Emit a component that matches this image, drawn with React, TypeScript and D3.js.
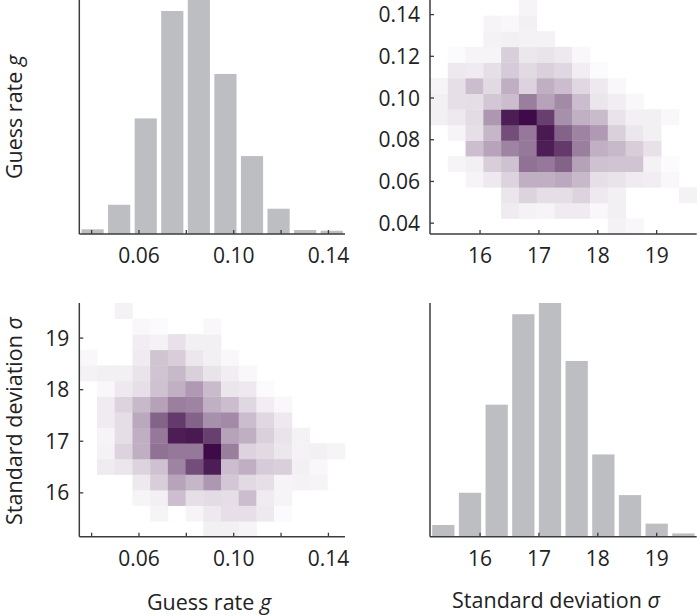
import React from 'react';
import * as d3 from 'd3';

// ---- data ----
const gDomain = [0.0348, 0.147];
const sDomain = [15.15, 19.68];
const gHistCounts = [20, 125, 494, 953, 1000, 684, 333, 108, 17, 14];
const sHistCounts = [50, 188, 565, 952, 1000, 752, 352, 178, 56, 14];
const gTicks = [0.04, 0.06, 0.08, 0.1, 0.12, 0.14];
const gTickLabelsShown = [0.06, 0.1, 0.14];
const gTickLabelsAll = [0.04, 0.06, 0.08, 0.1, 0.12, 0.14];
const sTicks = [16, 17, 18, 19];
// joint density, rows = guess-rate bins (low -> high), cols = sigma bins (low -> high)
const density = [
  [0, 0, 0, 0, 0, 0, 0, 0, 0, 0, 0.2, 0.1, 0, 0, 0],
  [0, 0, 0, 0, 0.35, 0.2, 0.15, 0.35, 0.35, 0.1, 0.25, 0, 0, 0, 0],
  [0, 0, 0, 0, 0.5, 1, 0.7, 0.7, 1, 0.4, 0.25, 0, 0, 0, 0.2],
  [0, 0, 0.15, 0.4, 1, 2.25, 2.25, 2.5, 1.9, 0.65, 0.55, 0.35, 0.3, 0.1, 0],
  [0, 0.15, 0.25, 1.2, 1.6, 4.8, 4.5, 5.5, 2.8, 1.6, 1.5, 1.5, 0.2, 0.05, 0],
  [0, 0, 1.7, 2.7, 4, 4.5, 9, 7.5, 4.2, 2.2, 1.9, 1.2, 0.6, 0, 0],
  [0, 0.15, 0.65, 2, 6.5, 4.5, 9.2, 5.5, 4, 3.1, 1.1, 0.45, 0.25, 0, 0],
  [0.25, 0.4, 0.75, 3.2, 9, 10, 7.2, 3.5, 2.2, 1.8, 0.55, 0.25, 0.25, 0.1, 0],
  [0.25, 0.65, 0.7, 1.4, 1.75, 4.25, 2.75, 3.75, 1.75, 0.5, 0.3, 0.1, 0, 0, 0],
  [0.15, 0.65, 1.75, 0.8, 2.25, 1, 2.25, 1.75, 0.9, 0.4, 0.1, 0, 0, 0, 0],
  [0, 0.4, 0.35, 0.65, 1.25, 0.8, 1.1, 0.9, 0.3, 0.05, 0, 0, 0, 0, 0],
  [0, 0.05, 0.15, 0.15, 1.15, 0.45, 0.55, 0.4, 0.1, 0, 0, 0, 0, 0, 0],
  [0, 0, 0, 0.2, 0.25, 0.2, 0.2, 0, 0, 0, 0, 0, 0, 0, 0],
  [0, 0, 0, 0.15, 0.1, 0.25, 0, 0, 0, 0, 0, 0, 0, 0, 0],
  [0, 0, 0, 0, 0, 0.15, 0, 0, 0, 0, 0, 0, 0, 0, 0],
];

// ---- layout ----
const W = 697;
const H = 616;
const colL = { x0: 79.3, x1: 345 };
const colR = { x0: 430, x1: 696.7 };
const rowT = { y0: 0, y1: 234 };
const rowB = { y0: 303, y1: 536.7 };
const FONT = "'Open Sans', 'Noto Sans', sans-serif";
const AXIS = '#3c3c3c';
const TXT = '#222';
const BAR = '#bdbec2';
const TICK_FS = 21;
const LABEL_FS = 21.5;

const intensity = d3.scalePow().exponent(0.75).domain([0, 10]).range([0, 1]).clamp(true);
const colorRamp = d3.interpolateRgb('#ffffff', '#3e0a47');
const colorOf = (v: number) => colorRamp(intensity(v));

function edges(domain: number[], n: number) {
  return d3.range(n + 1).map((i) => domain[0] + (i * (domain[1] - domain[0])) / n);
}

function Axes({ x0, x1, y0, y1 }: any) {
  return (
    <g stroke={AXIS} strokeWidth={1.5} fill="none">
      <line x1={x0} y1={y0} x2={x0} y2={y1} />
      <line x1={x0} y1={y1} x2={x1} y2={y1} />
    </g>
  );
}

function XTicks({ scale, ticks, labels, y1, fmt }: any) {
  return (
    <g>
      {ticks.map((t: number) => (
        <line key={'t' + t} x1={scale(t)} x2={scale(t)} y1={y1} y2={y1 - 4} stroke={AXIS} strokeWidth={1.3} />
      ))}
      {labels.map((t: number) => (
        <text key={'l' + t} x={scale(t)} y={y1 + 29} textAnchor="middle" fontSize={TICK_FS} fontFamily={FONT} fill={TXT}>
          {fmt(t)}
        </text>
      ))}
    </g>
  );
}

function YTicks({ scale, ticks, labels, x0, fmt }: any) {
  return (
    <g>
      {ticks.map((t: number) => (
        <line key={'t' + t} y1={scale(t)} y2={scale(t)} x1={x0} x2={x0 + 4} stroke={AXIS} strokeWidth={1.3} />
      ))}
      {labels.map((t: number) => (
        <text key={'l' + t} x={x0 - 10} y={scale(t)} dy="0.36em" textAnchor="end" fontSize={TICK_FS} fontFamily={FONT} fill={TXT}>
          {fmt(t)}
        </text>
      ))}
    </g>
  );
}

function Histogram({ counts, domain, col, row }: any) {
  const x = d3.scaleLinear().domain(domain).range([col.x0, col.x1]);
  const y = d3.scaleLinear().domain([0, d3.max(counts as number[]) as number]).range([row.y1, row.y0]);
  const e = edges(domain, counts.length);
  const inset = 2.2;
  return (
    <g>
      {counts.map((c: number, i: number) => (
        <rect
          key={i}
          x={x(e[i]) + inset}
          width={x(e[i + 1]) - x(e[i]) - 2 * inset}
          y={y(c)}
          height={row.y1 - y(c)}
          fill={BAR}
        />
      ))}
    </g>
  );
}

function Heatmap({ xDomain, yDomain, col, row, transpose }: any) {
  const n = density.length;
  const x = d3.scaleLinear().domain(xDomain).range([col.x0, col.x1]);
  const y = d3.scaleLinear().domain(yDomain).range([row.y1, row.y0]);
  const ex = edges(xDomain, n);
  const ey = edges(yDomain, n);
  const cells: any[] = [];
  for (let gi = 0; gi < n; gi++) {
    for (let si = 0; si < n; si++) {
      const v = density[gi][si];
      if (v <= 0) continue;
      const xi = transpose ? gi : si;
      const yi = transpose ? si : gi;
      cells.push(
        <rect
          key={gi + '-' + si}
          x={x(ex[xi])}
          width={x(ex[xi + 1]) - x(ex[xi]) + 0.4}
          y={y(ey[yi + 1])}
          height={y(ey[yi]) - y(ey[yi + 1]) + 0.4}
          fill={colorOf(v)}
        />
      );
    }
  }
  return <g>{cells}</g>;
}

export default function App() {
  const gxL = d3.scaleLinear().domain(gDomain).range([colL.x0, colL.x1]);
  const sxR = d3.scaleLinear().domain(sDomain).range([colR.x0, colR.x1]);
  const gyT = d3.scaleLinear().domain(gDomain).range([rowT.y1, rowT.y0]);
  const syB = d3.scaleLinear().domain(sDomain).range([rowB.y1, rowB.y0]);
  const fmtG = (v: number) => d3.format('.2f')(v);
  const fmtS = (v: number) => String(v);

  return (
    <div style={{ position: 'absolute', left: 0, top: 0 }}>
      <svg width={W} height={H} style={{ display: 'block', background: '#fff' }}>
        {/* top-left: guess-rate histogram */}
        <Histogram counts={gHistCounts} domain={gDomain} col={colL} row={rowT} />
        <Axes x0={colL.x0} x1={colL.x1} y0={rowT.y0} y1={rowT.y1} />
        <XTicks scale={gxL} ticks={gTicks} labels={gTickLabelsShown} y1={rowT.y1} fmt={fmtG} />

        {/* top-right: joint, x = sigma, y = g */}
        <Heatmap xDomain={sDomain} yDomain={gDomain} col={colR} row={rowT} transpose={false} />
        <Axes x0={colR.x0} x1={colR.x1} y0={rowT.y0} y1={rowT.y1} />
        <XTicks scale={sxR} ticks={sTicks} labels={sTicks} y1={rowT.y1} fmt={fmtS} />
        <YTicks scale={gyT} ticks={gTicks} labels={gTickLabelsAll} x0={colR.x0} fmt={fmtG} />

        {/* bottom-left: joint, x = g, y = sigma */}
        <Heatmap xDomain={gDomain} yDomain={sDomain} col={colL} row={rowB} transpose={true} />
        <Axes x0={colL.x0} x1={colL.x1} y0={rowB.y0} y1={rowB.y1} />
        <XTicks scale={gxL} ticks={gTicks} labels={gTickLabelsShown} y1={rowB.y1} fmt={fmtG} />
        <YTicks scale={syB} ticks={sTicks} labels={sTicks} x0={colL.x0} fmt={fmtS} />

        {/* bottom-right: sigma histogram */}
        <Histogram counts={sHistCounts} domain={sDomain} col={colR} row={rowB} />
        <Axes x0={colR.x0} x1={colR.x1} y0={rowB.y0} y1={rowB.y1} />
        <XTicks scale={sxR} ticks={sTicks} labels={sTicks} y1={rowB.y1} fmt={fmtS} />

        {/* axis titles */}
        <text transform={`translate(22,117) rotate(-90)`} textAnchor="middle" fontSize={LABEL_FS} fontFamily={FONT} fill={TXT}>
          Guess rate <tspan fontStyle="italic">g</tspan>
        </text>
        <text transform={`translate(22,421) rotate(-90)`} textAnchor="middle" fontSize={LABEL_FS} fontFamily={FONT} fill={TXT}>
          Standard deviation <tspan fontStyle="italic">σ</tspan>
        </text>
        <text x={209} y={610} textAnchor="middle" fontSize={LABEL_FS} fontFamily={FONT} fill={TXT}>
          Guess rate <tspan fontStyle="italic">g</tspan>
        </text>
        <text x={556} y={608} textAnchor="middle" fontSize={LABEL_FS} fontFamily={FONT} fill={TXT}>
          Standard deviation <tspan fontStyle="italic">σ</tspan>
        </text>
      </svg>
    </div>
  );
}
